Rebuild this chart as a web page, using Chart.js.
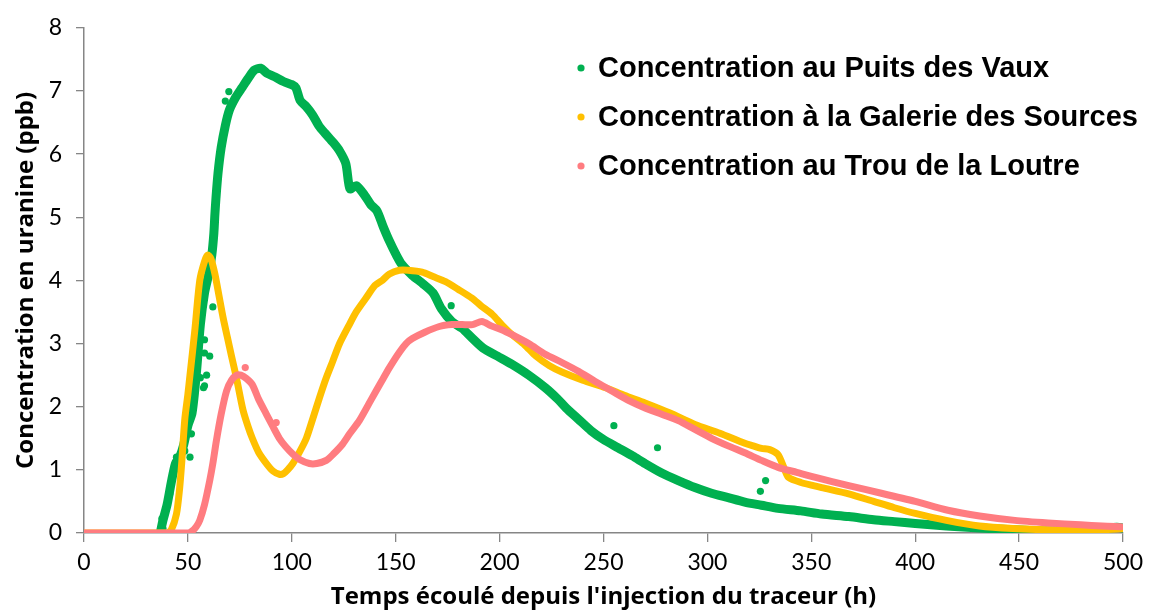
<!DOCTYPE html>
<html>
<head>
<meta charset="utf-8">
<script src="https://cdn.jsdelivr.net/npm/chart.js@4.4.0/dist/chart.umd.min.js"></script>
<style>
html,body{margin:0;padding:0;background:#fff;}
canvas{display:block;}
</style>
</head>
<body>
<canvas id="c" width="1150" height="612"></canvas>
<script>
// ---- Data ----
const seriesNames = [
  "Concentration au Puits des Vaux",
  "Concentration à la Galerie des Sources",
  "Concentration au Trou de la Loutre"
];
const xTicks = [0,50,100,150,200,250,300,350,400,450,500];
const yTicks = [0,1,2,3,4,5,6,7,8];

// Puits des Vaux (green)
const vauxX = [37,38,40,42,44,46,48,50,52,54,56,58,60,61.5,62.5,63,63.5,64.5,66,68,70,73,76,79,82,85,88,92,96,100,102,104,107,110,113,116,120,123,126,128,131,135,138,141,144,147,150,153,158,163,168,172,177,182,187,192,199,206,214,222,228,232,238,244,250,257,264,270,278,286,294,302,310,318,326,334,345,355,368,380,390,400,415,431,447,464,480,490,497,500];
const vauxY = [0.05,0.2,0.45,0.8,1.1,1.2,1.4,1.7,1.9,2.5,3.3,3.8,4.1,4.4,4.75,5.05,5.3,5.7,6.1,6.45,6.7,6.9,7.05,7.2,7.33,7.36,7.28,7.22,7.15,7.1,7.05,6.85,6.75,6.62,6.45,6.33,6.18,6.05,5.85,5.45,5.5,5.35,5.2,5.1,4.85,4.62,4.42,4.25,4.08,3.95,3.8,3.55,3.35,3.24,3.08,2.93,2.8,2.67,2.5,2.3,2.12,1.98,1.8,1.62,1.48,1.35,1.22,1.1,0.95,0.83,0.72,0.63,0.56,0.49,0.44,0.39,0.35,0.3,0.26,0.21,0.18,0.15,0.11,0.08,0.05,0.03,0.04,0.06,0.09,0.08];
// scattered green points off the main trace
const vauxOutX = [37.5,38,39.7,41.3,44.5,48.5,51,51.7,56,57.5,58,58,58,59,60.5,62,68,69.7,176.7,255,276,325.5,328];
const vauxOutY = [0.23,0.07,0.41,0.62,1.2,1.3,1.2,1.57,2.46,2.3,2.33,2.85,3.06,2.5,2.8,3.58,6.84,6.99,3.6,1.7,1.35,0.66,0.83];

// Galerie des Sources (yellow)
const galX = [0,40,42,44.5,46,47,48.5,50,51,53.3,55.7,58,59.5,61,63,65,67,69,71,73.4,76.5,79,81,84,87.8,91,94,96,98,100.5,104,107,110,113.3,116.5,119.7,123,127.7,131,135.7,140,143.5,147,151.7,156,162.7,168,174,180,186.7,191,196.5,201,206,212,217.5,224,230,240,251,260,270,282,294,306,318,322,326,330,334,337,339,345,355,368,380,390,400,415,431,447,464,480,490,500];
const galY = [0,0,0.05,0.3,0.7,1.1,1.8,2.2,2.5,3.2,4.0,4.3,4.4,4.35,4.1,3.75,3.4,3.1,2.8,2.45,1.95,1.68,1.5,1.28,1.1,0.98,0.93,0.94,1.0,1.1,1.3,1.5,1.8,2.14,2.45,2.72,3.0,3.3,3.5,3.72,3.92,4.0,4.1,4.16,4.16,4.13,4.06,3.98,3.86,3.72,3.6,3.46,3.3,3.14,2.98,2.8,2.65,2.55,2.42,2.3,2.18,2.06,1.9,1.72,1.58,1.42,1.38,1.34,1.32,1.24,1.02,0.88,0.8,0.72,0.62,0.5,0.4,0.31,0.2,0.11,0.07,0.05,0.04,0.05,0.07];
const galOutX = [470];
const galOutY = [0.0];

// Trou de la Loutre (pink)
const loutreX = [0,50,52,54,55.7,58,60.5,62,63.7,66,68.6,71,73.5,75.5,78,81,84,87.8,91,94,97,100.5,104,108.5,112,116.6,120,124.5,128,132.5,138,143.5,147,151.7,155,158,164,171,177,182,187,191.5,196,201,206,214,222,230,238,246,254,262,270,278,286,294,302,310,318,326,334,343,352,368,383.7,400,415.7,431,448,464,479.6,490,499];
const loutreY = [0,0,0.03,0.1,0.2,0.45,0.83,1.1,1.46,1.88,2.25,2.42,2.5,2.5,2.45,2.35,2.12,1.88,1.68,1.5,1.37,1.25,1.16,1.1,1.1,1.15,1.25,1.41,1.58,1.78,2.1,2.42,2.62,2.86,3.0,3.08,3.18,3.27,3.3,3.3,3.3,3.35,3.28,3.22,3.14,3.0,2.83,2.7,2.56,2.4,2.25,2.1,1.98,1.88,1.78,1.64,1.5,1.38,1.27,1.15,1.04,0.96,0.88,0.75,0.63,0.5,0.36,0.27,0.2,0.16,0.13,0.11,0.1];
const loutreOutX = [77.6,92.5];
const loutreOutY = [2.62,1.75];

const colors = ["#00B050", "#FFC000", "#FF7C80"];

// ---- Build datasets ----
function pts(xs, ys){ return xs.map((x,i)=>({x:x, y:ys[i]})); }
function lineSet(label, xs, ys, color, width, order){
  return {label, data: pts(xs,ys), showLine:true, borderColor:color, backgroundColor:color,
    borderWidth:width, pointRadius:0, pointHoverRadius:0, borderCapStyle:'round', borderJoinStyle:'round',
    tension:0.25, order, legendItem:true};
}
function dotSet(label, xs, ys, color, order){
  return {label, data: pts(xs,ys), showLine:false, borderColor:color, backgroundColor:color,
    pointRadius:3.6, pointBorderWidth:0, order, legendItem:false};
}
const datasets = [
  lineSet(seriesNames[0], vauxX, vauxY, colors[0], 9, 3),
  dotSet(seriesNames[0], vauxOutX, vauxOutY, colors[0], 3),
  lineSet(seriesNames[1], galX, galY, colors[1], 7, 2),
  dotSet(seriesNames[1], galOutX, galOutY, colors[1], 2),
  lineSet(seriesNames[2], loutreX, loutreY, colors[2], 7, 1),
  dotSet(seriesNames[2], loutreOutX, loutreOutY, colors[2], 1)
];

// ---- Legend drawn inside the plot area ----
const insideLegend = {
  id: 'insideLegend',
  afterDraw(chart){
    const ctx = chart.ctx;
    const items = chart.data.datasets.filter(d => d.legendItem);
    ctx.save();
    ctx.font = 'bold 29px "Liberation Sans", Arial, sans-serif';
    ctx.textBaseline = 'alphabetic';
    ctx.textAlign = 'left';
    items.forEach((d, i) => {
      const cy = 67 + i * 49;
      ctx.fillStyle = d.borderColor;
      ctx.beginPath();
      ctx.arc(581, cy + 1, 3.6, 0, Math.PI * 2);
      ctx.fill();
      ctx.fillStyle = '#000';
      ctx.fillText(d.label, 598, cy + 10);
    });
    ctx.restore();
  }
};

const tickFont = {family: 'Lato, "Liberation Sans", sans-serif', size: 23};
const titleFont = {family: '"Open Sans", Lato, sans-serif', size: 24, weight: 'bold'};

new Chart(document.getElementById('c'), {
  type: 'scatter',
  data: { datasets },
  options: {
    responsive: false,
    devicePixelRatio: 1,
    animation: false,
    layout: { padding: { left: 0, right: 19, top: 24, bottom: 0 } },
    plugins: { legend: { display: false }, tooltip: { enabled: false } },
    scales: {
      x: {
        type: 'linear', min: 0, max: 500,
        afterBuildTicks: s => { s.ticks = xTicks.map(v => ({value: v})); },
        ticks: { font: tickFont, color: '#000', padding: 7, maxRotation: 0 },
        grid: { drawOnChartArea: false, color: '#868686', tickLength: 9, lineWidth: 1.3 },
        border: { color: '#868686', width: 1.5 },
        title: { display: true, text: "Temps écoulé depuis l'injection du traceur (h)", font: titleFont, color: '#000', padding: {top: 0, bottom: 0} },
        afterFit: s => { s.height = 79; }
      },
      y: {
        type: 'linear', min: 0, max: 8,
        afterBuildTicks: s => { s.ticks = yTicks.map(v => ({value: v})); },
        ticks: { font: tickFont, color: '#000', padding: 14 },
        grid: { drawOnChartArea: false, color: '#868686', tickLength: 8, lineWidth: 1.3 },
        border: { color: '#868686', width: 1.5 },
        title: { display: true, text: 'Concentration en uranine (ppb)', font: titleFont, color: '#000', padding: {top: 12, bottom: 0} },
        afterFit: s => { s.width = 84; }
      }
    }
  },
  plugins: [insideLegend]
});
</script>
</body>
</html>
